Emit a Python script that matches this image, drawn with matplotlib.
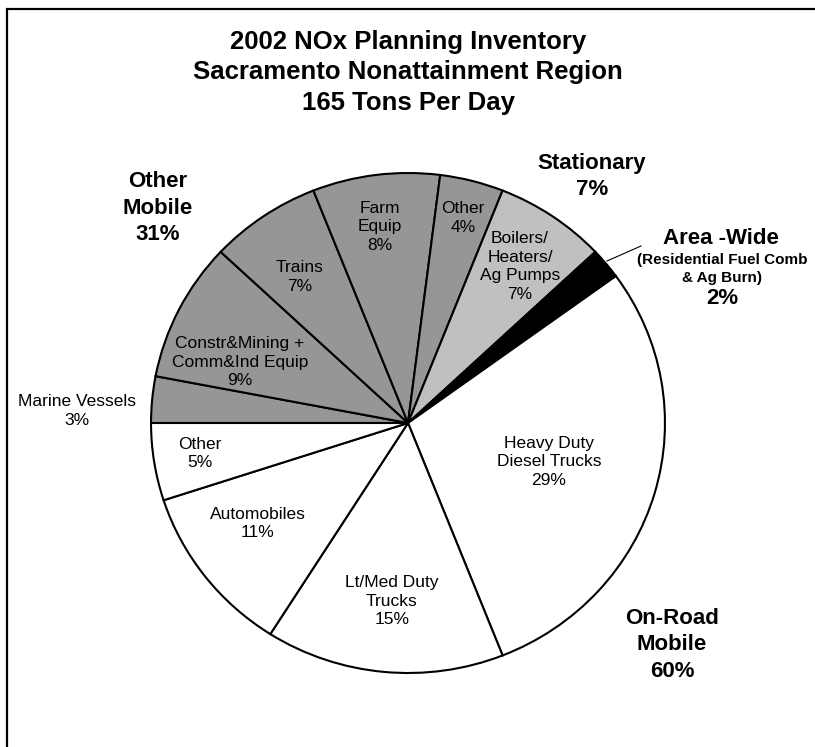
import matplotlib
matplotlib.use("Agg")
import matplotlib.pyplot as plt

plt.rcParams['font.family'] = ['Liberation Sans', 'DejaVu Sans']

# Slice data, clockwise from the 9 o'clock position
categories = ["Marine Vessels", "Constr&Mining + Comm&Ind Equip", "Trains",
              "Farm Equip", "Other (Mobile)", "Boilers/Heaters/Ag Pumps",
              "Area-Wide", "Heavy Duty Diesel Trucks", "Lt/Med Duty Trucks",
              "Automobiles", "Other (On-Road)"]
percents = [3, 9, 7, 8, 4, 7, 2, 29, 15, 11, 5]
groups = ["Other Mobile"] * 5 + ["Stationary", "Area-Wide"] + ["On-Road Mobile"] * 4
group_totals = {"Other Mobile": 31, "Stationary": 7, "Area-Wide": 2, "On-Road Mobile": 60}

group_colors = {"Other Mobile": "#969696", "Stationary": "#c0c0c0",
                "Area-Wide": "#000000", "On-Road Mobile": "#ffffff"}

W, H = 815, 747
fig = plt.figure(figsize=(W / 100, H / 100), dpi=100)

# Pie axes (slightly wider than tall)
cx, cy, rx, ry = 408, 423, 258, 251
ax = fig.add_axes([(cx - rx) / W, 1 - (cy + ry) / H, 2 * rx / W, 2 * ry / H])
ax.pie(percents, startangle=180, counterclock=False,
       colors=[group_colors[g] for g in groups],
       wedgeprops=dict(edgecolor="black", linewidth=1.5))
ax.set_aspect("auto")
ax.set_xlim(-1.004, 1.004)
ax.set_ylim(-1.004, 1.004)
ax.axis("off")

# Overlay axes in pixel coordinates for frame and annotations
ov = fig.add_axes([0, 0, 1, 1], facecolor="none")
ov.set_xlim(0, W)
ov.set_ylim(H, 0)
ov.axis("off")

# Outer frame
ov.plot([7, 7, W + 5], [H + 5, 9, 9], color="black", lw=1.6, solid_joinstyle="miter")

# Title
title_lines = ["2002 NOx Planning Inventory",
               "Sacramento Nonattainment Region",
               "165 Tons Per Day"]
for i, line in enumerate(title_lines):
    ov.text(408, 42 + 30.5 * i, line, ha="center", va="center",
            fontsize=18.5, fontweight="bold")

# Slice labels
slice_labels = [
    ("Marine Vessels\n3%", 77, 411),
    ("Constr&Mining +\nComm&Ind Equip\n9%", 240, 362),
    ("Trains\n7%", 300, 277),
    ("Farm\nEquip\n8%", 380, 227),
    ("Other\n4%", 463, 218),
    ("Boilers/\nHeaters/\nAg Pumps\n7%", 520, 266.5),
    ("Heavy Duty\nDiesel Trucks\n29%", 549, 462),
    ("Lt/Med Duty\nTrucks\n15%", 392, 601),
    ("Automobiles\n11%", 258, 523.5),
    ("Other\n5%", 200, 453.5),
]
for text, x, y in slice_labels:
    ov.text(x, y, text, ha="center", va="center", fontsize=12.5,
            linespacing=1.29, multialignment="center")

# Group labels
group_labels = [
    ("Other\nMobile\n{}%".format(group_totals["Other Mobile"]), 158, 208),
    ("Stationary\n{}%".format(group_totals["Stationary"]), 592, 176.5),
    ("On-Road\nMobile\n{}%".format(group_totals["On-Road Mobile"]), 672, 645),
]
for text, x, y in group_labels:
    ov.text(x, y, text, ha="center", va="center", fontsize=16,
            fontweight="bold", linespacing=1.34, multialignment="center")

ov.text(721, 238, "Area -Wide", ha="center", va="center", fontsize=16,
        fontweight="bold")
ov.text(722, 269, "(Residential Fuel Comb\n& Ag Burn)", ha="center", va="center",
        fontsize=11, fontweight="bold", linespacing=1.32)
ov.text(722, 299, "{}%".format(group_totals["Area-Wide"]), ha="center",
        va="center", fontsize=16, fontweight="bold")
ov.plot([607, 641], [261, 246], color="black", lw=0.8)

fig.savefig("out.png", dpi=100)
